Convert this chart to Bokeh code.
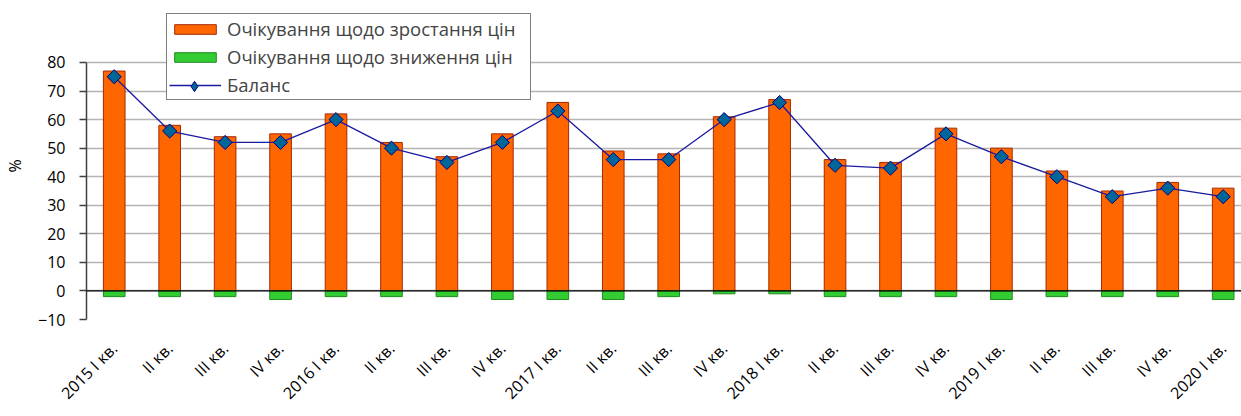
import math
from bokeh.plotting import figure
from bokeh.models import (FixedTicker, Span, Legend, LegendItem,
                          ColumnDataSource, Range1d)
from bokeh.embed import file_html
from bokeh.resources import INLINE

categories = ["2015 I кв.", "II кв.", "III кв.", "IV кв.",
              "2016 I кв.", "II кв.", "III кв.", "IV кв.",
              "2017 I кв.", "II кв.", "III кв.", "IV кв.",
              "2018 I кв.", "II кв.", "III кв.", "IV кв.",
              "2019 I кв.", "II кв.", "III кв.", "IV кв.",
              "2020 I кв."]
rise = [77, 58, 54, 55, 62, 52, 47, 55, 66, 49, 48, 61, 67, 46, 45, 57, 50, 42, 35, 38, 36]
fall = [-2, -2, -2, -3, -2, -2, -2, -3, -3, -3, -2, -1, -1, -2, -2, -2, -3, -2, -2, -2, -3]
balance = [75, 56, 52, 52, 60, 50, 45, 52, 63, 46, 46, 60, 66, 44, 43, 55, 47, 40, 33, 36, 33]
y_ticks = [-10, 0, 10, 20, 30, 40, 50, 60, 70, 80]

series_names = ["Очікування щодо зростання цін",
                "Очікування щодо зниження цін",
                "Баланс"]

FONT = "Open Sans"
xs = list(range(len(categories)))
src = ColumnDataSource(dict(x=xs, rise=rise, fall=fall, balance=balance))

p = figure(width=1241, height=416, output_backend="svg", toolbar_location=None,
           x_range=Range1d(-0.5, 20.33), y_range=Range1d(-10, 97.5),
           min_border_left=86, min_border_right=0, min_border_top=12,
           min_border_bottom=97, outline_line_color=None)
p.background_fill_color = "white"
p.border_fill_color = "white"

# grid
p.xgrid.grid_line_color = None
p.ygrid.grid_line_color = "#B5B5B5"
p.ygrid.grid_line_width = 1.5
p.ygrid.ticker = FixedTicker(ticks=y_ticks)

# bars
r_rise = p.vbar(x="x", top="rise", bottom=0, width=0.39, source=src,
                fill_color="#FF6600", line_color="#A52A00", line_width=1)
r_fall = p.vbar(x="x", top=0, bottom="fall", width=0.39, source=src,
                fill_color="#33CC33", line_color="#1E8C1E", line_width=1)

# zero line
p.add_layout(Span(location=0, dimension="width", line_color="black", line_width=1.3))

# balance line
r_line = p.line(x="x", y="balance", source=src, line_color="#1A1AA0", line_width=1.3)
# small diamond hidden under the main markers; only used for the legend swatch
r_leg = p.scatter(x="x", y="balance", source=src, marker="diamond", size=7,
                  fill_color="#006699", line_color="#000080", line_width=1)
r_pts = p.scatter(x="x", y="balance", source=src, marker="square", angle=math.pi / 4,
                  size=10, fill_color="#006699", line_color="#000080", line_width=1)

# axes
p.yaxis.ticker = FixedTicker(ticks=y_ticks)
p.yaxis.bounds = (-10, 80)
p.yaxis.axis_line_color = "#404040"
p.yaxis.axis_line_width = 1.5
p.yaxis.major_tick_line_color = "#404040"
p.yaxis.major_tick_line_width = 1.5
p.yaxis.major_tick_out = 7
p.yaxis.major_tick_in = 0
p.yaxis.minor_tick_line_color = None
p.yaxis.major_label_standoff = 14
p.yaxis.major_label_text_font = FONT
p.yaxis.major_label_text_font_size = "16px"
p.yaxis.major_label_text_color = "black"
p.yaxis.axis_label = "%"
p.yaxis.axis_label_standoff = 9
p.yaxis.axis_label_text_font = FONT
p.yaxis.axis_label_text_font_size = "16px"
p.yaxis.axis_label_text_font_style = "normal"
p.yaxis.axis_label_text_color = "black"

p.xaxis.ticker = FixedTicker(ticks=xs)
p.xaxis.major_label_overrides = {i: c for i, c in enumerate(categories)}
p.xaxis.major_label_orientation = math.pi / 4
p.xaxis.axis_line_color = None
p.xaxis.major_tick_line_color = None
p.xaxis.minor_tick_line_color = None
p.xaxis.major_label_standoff = 20
p.xaxis.major_label_text_font = FONT
p.xaxis.major_label_text_font_size = "16px"
p.xaxis.major_label_text_color = "black"

legend = Legend(items=[LegendItem(label=series_names[0], renderers=[r_rise]),
                       LegendItem(label=series_names[1], renderers=[r_fall]),
                       LegendItem(label=series_names[2], renderers=[r_line])],
                location=(80, 219), margin=0, padding=2, spacing=3,
                glyph_width=52, glyph_height=12, label_standoff=6,
                label_text_font=FONT, label_text_font_size="18.5px",
                label_height=25, label_width=301,
                border_line_color="black", border_line_width=1.2,
                background_fill_color="white", background_fill_alpha=1)
p.add_layout(legend, "center")

# diamond swatch for the balance entry
legend2 = Legend(items=[LegendItem(label=" ", renderers=[r_leg])],
                 location=(82, 220.5), margin=0, padding=0, spacing=0,
                 glyph_width=52, glyph_height=26, label_height=26, label_width=1,
                 label_standoff=0, label_text_font_size="4px",
                 border_line_color=None, background_fill_alpha=0)
p.add_layout(legend2, "center")

open("out.html", "w").write(file_html(p, INLINE))
